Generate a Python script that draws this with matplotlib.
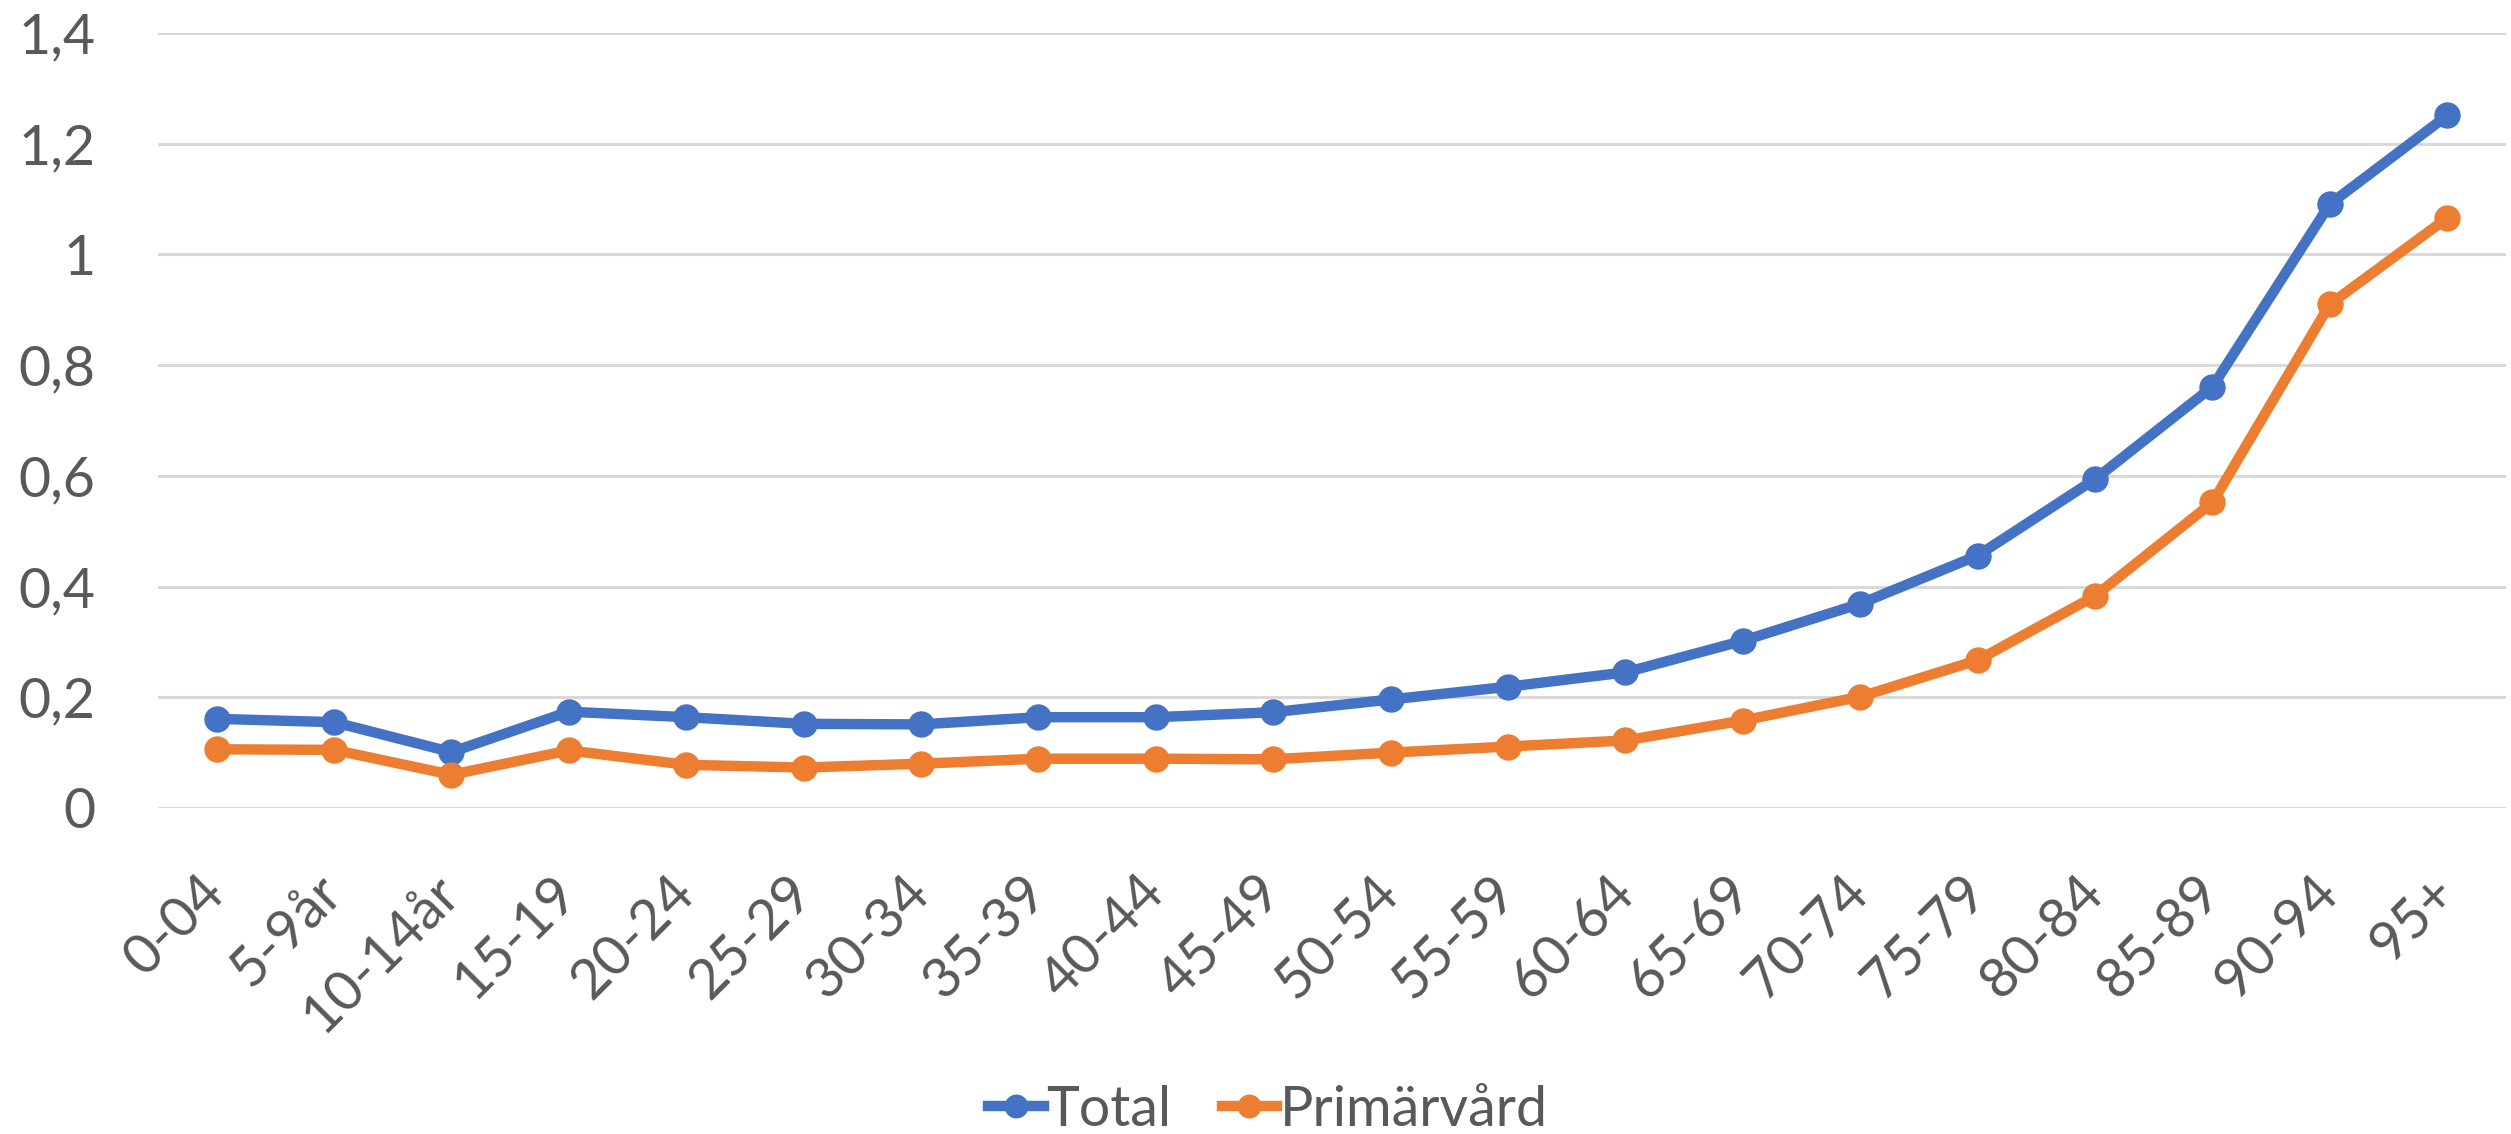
import numpy as np
import matplotlib.pyplot as plt

plt.rcParams['font.family'] = ['Lato', 'DejaVu Sans']

age_groups = ['0-04', '5-9år', '10-14år', '15-19', '20-24', '25-29', '30-34', '35-39',
              '40-44', '45-49', '50-54', '55-59', '60-64', '65-69', '70-74', '75-79',
              '80-84', '85-89', '90-94', '95+']
total = [0.161, 0.155, 0.101, 0.174, 0.164, 0.152, 0.151, 0.164, 0.164, 0.173,
         0.196, 0.219, 0.245, 0.302, 0.369, 0.456, 0.594, 0.761, 1.091, 1.251]
primarvard = [0.106, 0.105, 0.060, 0.104, 0.078, 0.073, 0.080, 0.089, 0.089, 0.088,
              0.100, 0.111, 0.122, 0.158, 0.201, 0.267, 0.383, 0.552, 0.910, 1.066]
yticks = [0, 0.2, 0.4, 0.6, 0.8, 1.0, 1.2, 1.4]

blue = '#4472C4'
orange = '#ED7D31'
text_col = '#595959'

fig = plt.figure(figsize=(25.11, 11.34), dpi=100)
ax = fig.add_axes([0.0629, 0.2875, 0.9351, 0.6834])

x = np.arange(len(age_groups))
ax.plot(x, total, color=blue, lw=7.5, marker='o', ms=18, label='Total', zorder=3)
ax.plot(x, primarvard, color=orange, lw=7.5, marker='o', ms=18, label='Primärvård', zorder=3)

ax.set_xlim(-0.5, len(age_groups) - 0.5)
ax.set_ylim(0, 1.4)
ax.set_yticks(yticks)
ax.set_yticklabels([('%g' % v).replace('.', ',') for v in yticks])
ax.yaxis.grid(True, color='#D9D9D9', lw=2.2)
ax.set_axisbelow(True)
for s in ax.spines.values():
    s.set_visible(False)

ax.set_xticks(x)
ax.set_xticklabels(age_groups, rotation=45, ha='right', va='center', rotation_mode='anchor')
ax.tick_params(axis='both', length=0, labelsize=40, colors=text_col)
ax.tick_params(axis='y', pad=45)
ax.tick_params(axis='x', pad=55)

leg = fig.legend(loc='center', bbox_to_anchor=(0.505, 0.021), ncol=2, frameon=False,
                 fontsize=40, handlelength=1.0, handletextpad=0.05, columnspacing=0.9,
                 markerscale=0.9)
for t in leg.get_texts():
    t.set_color(text_col)

fig.savefig('out.png', dpi=100)
